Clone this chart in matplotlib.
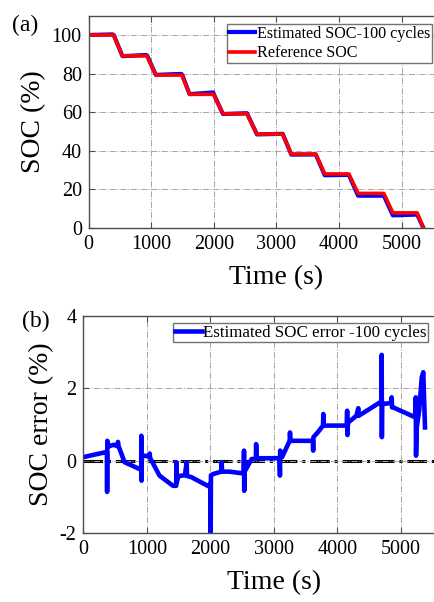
"""
SOC estimation plots: (a) SOC vs time, (b) SOC error vs time
"""
import matplotlib
matplotlib.use('Agg')
import matplotlib.pyplot as plt

# (a) reference SOC, step breakpoints
ref_time = [0, 395, 539, 928, 1072, 1488, 1611, 1995, 2144, 2528, 2688,
            3099, 3237, 3627, 3771, 4155, 4304, 4715, 4859, 5248, 5344]
ref_soc = [100, 100, 89.2, 89.2, 79.2, 79.2, 69.2, 69.2, 59.1, 59.1, 48.6,
           48.6, 38.2, 38.2, 27.9, 27.9, 17.8, 17.8, 7.7, 7.7, 0]

# (a) estimated SOC, 100 cycles
est_time = [0, 380, 400, 539, 920, 935, 1072, 1480, 1495, 1611, 1990, 2000,
            2144, 2528, 2688, 3099, 3237, 3627, 3771, 4155, 4304, 4715,
            4859, 5248, 5344]
est_soc = [100, 100.3, 100, 89.0, 89.6, 89.2, 79.3, 79.8, 79.2, 69.3, 70.2,
           69.2, 59.0, 59.4, 48.4, 48.7, 37.9, 38.0, 27.2, 27.4, 16.6, 16.6,
           6.4, 6.8, 0]

# (b) estimated SOC error
err_time = [0, 360, 373, 375, 378, 400, 480, 540, 546, 552, 650, 888, 912,
            914, 917, 922, 960, 1040, 1045, 1052, 1200, 1413, 1463, 1466,
            1470, 1500, 1600, 1628, 1633, 1700, 1969, 2004, 2006, 2010, 2040,
            2170, 2179, 2185, 2300, 2525, 2531, 2534, 2540, 2652, 2718, 2722,
            2728, 2900, 3090, 3097, 3100, 3130, 3250, 3255, 3262, 3615, 3620,
            3624, 3700, 3775, 3780, 3786, 4148, 4155, 4160, 4168, 4300, 4331,
            4337, 4672, 4697, 4699, 4702, 4706, 4751, 4853, 4856, 4862, 4882,
            5224, 5236, 5240, 5250, 5290, 5330, 5354, 5381]
err_value = [0.10, 0.24, 0.24, -0.86, 0.55, 0.40, 0.44, 0.40, 0.52, 0.42,
             -0.04, -0.23, -0.25, 0.69, -0.55, 0.10, 0.14, 0.12, 0.20, 0.08,
             -0.41, -0.69, -0.69, -0.04, -0.60, -0.42, -0.40, -0.04, -0.42,
             -0.45, -0.70, -0.62, -2.0, -0.40, -0.37, -0.30, -0.04, -0.30,
             -0.30, -0.35, 0.28, -0.83, -0.30, 0.05, 0.05, 0.46, 0.07, 0.07,
             0.07, -0.41, 0.28, 0.10, 0.55, 0.78, 0.55, 0.55, 0.28, 0.65, 0.80,
             0.97, 1.29, 0.97, 0.97, 1.38, 0.71, 1.05, 1.24, 1.45, 1.24, 1.61,
             1.61, 2.92, 0.65, 1.60, 1.57, 1.60, 1.75, 1.47, 1.47, 1.20, 1.75,
             0.14, 0.90, 1.40, 2.30, 2.44, 0.92]

plt.rcParams['font.family'] = ['Liberation Serif', 'DejaVu Serif']
plt.rcParams['axes.unicode_minus'] = False

W, H = 435, 602
fig = plt.figure(figsize=(W / 100, H / 100), dpi=100)
fig.patch.set_facecolor('white')


def style_axes(ax):
	ax.grid(True, linestyle='-.', color='0.65', linewidth=0.7)
	ax.tick_params(direction='in', top=True, right=True, labelsize=14.5,
	               pad=5, length=4, color='0.3')
	for sp in ax.spines.values():
		sp.set_color('0.3')
		sp.set_linewidth(1.0)


# ---- (a) ----
ax1 = fig.add_axes([88.7 / W, 1 - 227.7 / H, 375.6 / W, 212 / H])
ax1.plot(est_time, est_soc, color='#0000ff', linewidth=3.0,
         label='Estimated SOC-100 cycles')
ax1.plot(ref_time, ref_soc, color='#ff0000', linewidth=2.6,
         label='Reference SOC')
ax1.set_xlim(0, 6000)
ax1.set_ylim(0, 110)
ax1.set_xticks([0, 1000, 2000, 3000, 4000, 5000])
ax1.set_yticks([0, 20, 40, 60, 80, 100])
ax1.set_xlabel('Time (s)', fontsize=20, labelpad=8)
ax1.set_ylabel('SOC (%)', fontsize=20, labelpad=4)
style_axes(ax1)
ax1.legend(loc='upper left', bbox_to_anchor=(226.7 / W, 1 - 24 / H),
           bbox_transform=fig.transFigure, fontsize=11.6, fancybox=False,
           edgecolor='0.45', framealpha=1, borderpad=0.12, handlelength=1.65,
           handletextpad=0.08, labelspacing=0.2, borderaxespad=0)
fig.text(12 / W, 1 - 25 / H, '(a)', fontsize=17, va='center', ha='left')

# ---- (b) ----
ax2 = fig.add_axes([83.3 / W, 1 - 533.3 / H, 381 / W, 217.6 / H])
ax2.plot(err_time, err_value, color='#0000ff', linewidth=3.3,
         label='Estimated SOC error -100 cycles')
ax2.axhline(0, color='black', linestyle='-.', linewidth=2.2, zorder=1)
ax2.set_xlim(0, 6000)
ax2.set_ylim(-2, 4)
ax2.set_xticks([0, 1000, 2000, 3000, 4000, 5000])
ax2.set_yticks([-2, 0, 2, 4])
ax2.set_xlabel('Time (s)', fontsize=20, labelpad=8)
ax2.set_ylabel('SOC error (%)', fontsize=20, labelpad=4)
style_axes(ax2)
ax2.legend(loc='upper left', bbox_to_anchor=(173 / W, 1 - 323 / H),
           bbox_transform=fig.transFigure, fontsize=12.2, fancybox=False,
           edgecolor='0.45', framealpha=1, borderpad=0.1, handlelength=1.6,
           handletextpad=0.06, borderaxespad=0)
fig.text(22 / W, 1 - 321.7 / H, '(b)', fontsize=17, va='center', ha='left')

fig.savefig('out.png', dpi=100)
